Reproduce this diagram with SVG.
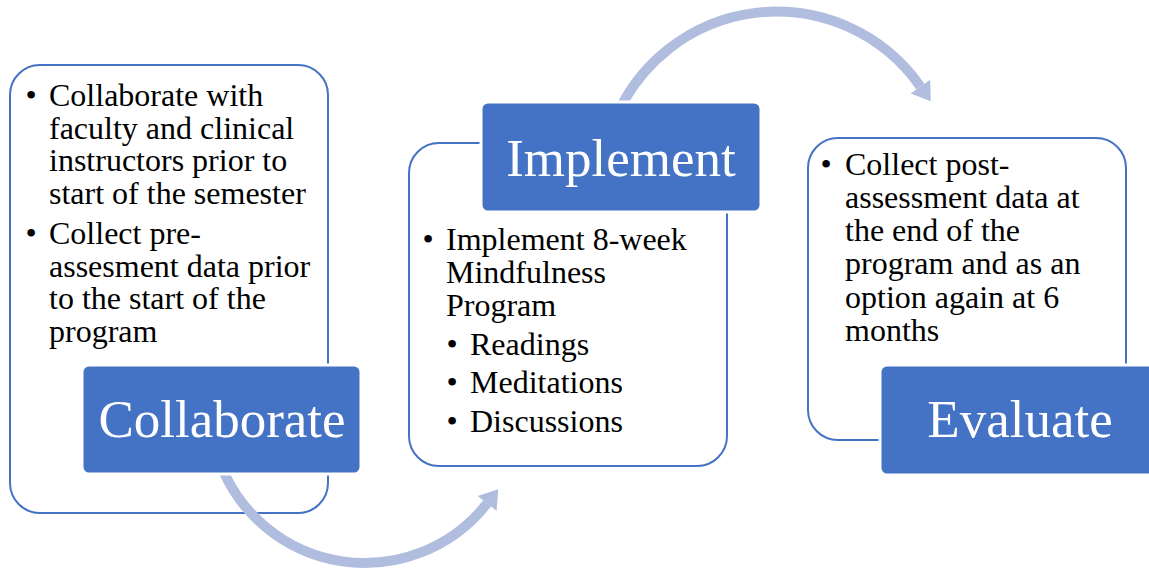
<svg xmlns="http://www.w3.org/2000/svg" width="1149" height="569" viewBox="0 0 1149 569">
  <style>
    .panel { fill: #FFFFFF; stroke: #4472C4; stroke-width: 2; }
    .label { fill: #4472C4; stroke: #FFFFFF; stroke-width: 3; }
    .title { font-family: "Liberation Serif", "Times New Roman", serif; font-size: 53px; fill: #FFFFFF; text-anchor: middle; }
    .body { font-family: "Liberation Serif", "Times New Roman", serif; font-size: 32px; fill: #000000; }
    .dot { font-family: "Liberation Serif", "Times New Roman", serif; font-size: 32px; fill: #000000; text-anchor: middle; }
    .flow { fill: none; stroke: #B0BDDF; stroke-width: 10; }
    .head { fill: #B0BDDF; }
  </style>

  <defs>
    <!-- arcs come out from under the stage title boxes -->
    <clipPath id="belowCollaborate">
      <rect x="0" y="475.5" width="1149" height="100"/>
    </clipPath>
    <clipPath id="aboveImplement">
      <rect x="0" y="0" width="1149" height="100.5"/>
    </clipPath>
  </defs>

  <!-- stage 1 -->
  <g id="collaborate">
    <rect class="panel" x="10" y="65" width="318" height="448" rx="30"/>
    <text class="dot" x="31" y="106">•</text>
    <text class="body" x="49" y="106">Collaborate with</text>
    <text class="body" x="49" y="138.5">faculty and clinical</text>
    <text class="body" x="49" y="171">instructors prior to</text>
    <text class="body" x="49" y="204">start of the semester</text>
    <text class="dot" x="31" y="243.5">•</text>
    <text class="body" x="49" y="243.5">Collect pre-</text>
    <text class="body" x="49" y="276.5">assesment data prior</text>
    <text class="body" x="49" y="308.5">to the start of the</text>
    <text class="body" x="49" y="341.5">program</text>
    <rect class="label" x="82" y="365" width="279" height="109" rx="7"/>
    <text class="title" x="222" y="437">Collaborate</text>
  </g>

  <!-- stage 2 -->
  <g id="implement">
    <rect class="panel" x="409" y="143" width="318" height="323" rx="30"/>
    <rect class="label" x="481" y="102" width="280" height="110" rx="7"/>
    <text class="title" x="621" y="176">Implement</text>
    <text class="dot" x="428" y="250">•</text>
    <text class="body" x="446" y="250">Implement 8-week</text>
    <text class="body" x="446" y="283">Mindfulness</text>
    <text class="body" x="446" y="315.5">Program</text>
    <text class="dot" x="452" y="355">•</text>
    <text class="body" x="470" y="355">Readings</text>
    <text class="dot" x="452" y="393">•</text>
    <text class="body" x="470" y="393">Meditations</text>
    <text class="dot" x="452" y="431.5">•</text>
    <text class="body" x="470" y="431.5">Discussions</text>
  </g>

  <!-- stage 3 -->
  <g id="evaluate">
    <rect class="panel" x="808" y="138" width="318" height="302" rx="30"/>
    <text class="dot" x="826" y="175">•</text>
    <text class="body" x="845" y="175">Collect post-</text>
    <text class="body" x="845" y="208">assessment data at</text>
    <text class="body" x="845" y="241">the end of the</text>
    <text class="body" x="845" y="274">program and as an</text>
    <text class="body" x="845" y="307.5">option again at 6</text>
    <text class="body" x="845" y="340.5">months</text>
    <rect class="label" x="880" y="365" width="290" height="110" rx="7"/>
    <text class="title" x="1020" y="437">Evaluate</text>
  </g>

  <!-- curved flow arrows between the stages, drawn over the panels -->
  <g id="connectors">
    <path class="flow" clip-path="url(#belowCollaborate)" d="M 219.3 461.0 A 155 155 0 0 0 487.1 503.4"/>
    <polygon class="head" points="498.2,489.2 496.6,510.8 477.6,496.0"/>
    <path class="flow" clip-path="url(#aboveImplement)" d="M 613.1 124.6 A 175 175 0 0 1 920.4 86.6"/>
    <polygon class="head" points="930.7,101.3 930.2,79.7 910.6,93.5"/>
  </g>
</svg>
